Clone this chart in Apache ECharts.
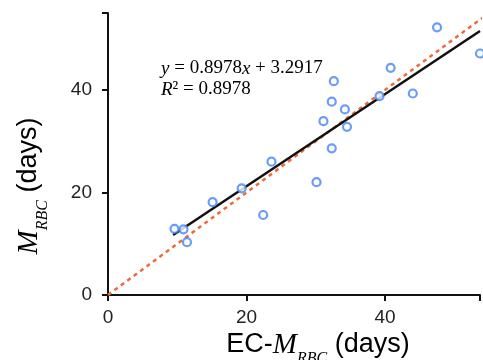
<!DOCTYPE html>
<html><head><meta charset="utf-8">
<script src="https://cdn.jsdelivr.net/npm/echarts@6/dist/echarts.min.js"></script>
<style>html,body{margin:0;padding:0;background:#fff}#c{width:483px;height:360px}</style>
</head><body><div id="c"></div>
<script>
// Data
const pointsX = [9.6, 10.9, 11.4, 15.1, 19.3, 22.4, 23.6, 30.1, 31.1, 32.3, 32.3, 32.6, 34.2, 34.5, 39.2, 40.8, 44.0, 47.5, 53.7];
const pointsY = [12.9, 12.8, 10.3, 18.1, 20.8, 15.6, 26.0, 22.0, 33.9, 28.6, 37.7, 41.7, 36.2, 32.8, 38.8, 44.3, 39.3, 52.2, 47.1];
const fitX = [9.4, 53.7];
const fitY = [11.7, 51.5];
const identityX = [0, 55];
const identityY = [0, 55];
const xTicks = [0, 20, 40];
const yTicks = [0, 20, 40];
const equationLine1 = ['y', ' = 0.8978', 'x', ' + 3.2917'];
const equationLine2 = ['R', '² = 0.8978'];

const chart = echarts.init(document.getElementById('c'), null, {renderer: 'canvas'});
const SANS = 'Liberation Sans, Arial, sans-serif';
const SERIF = 'Liberation Serif, Times New Roman, serif';
const nameRich = {
  n: {fontFamily: SANS, fontSize: 27, color: '#111', lineHeight: 30, verticalAlign: 'top'},
  m: {fontFamily: SERIF, fontStyle: 'italic', fontSize: 29, color: '#111', lineHeight: 30, verticalAlign: 'top'},
  s: {fontFamily: SERIF, fontStyle: 'italic', fontSize: 16, color: '#111', lineHeight: 16, verticalAlign: 'top', padding: [20, 0, 0, 0]}
};
const eqRich = {
  i: {fontFamily: SERIF, fontStyle: 'italic', fontSize: 19, color: '#111'},
  r: {fontFamily: SERIF, fontSize: 19, color: '#111'}
};
chart.setOption({
  animation: false,
  grid: {left: 108, right: 0, top: 13, bottom: 65, containLabel: false},
  xAxis: {
    type: 'value', min: 0, max: 53.7, interval: 20,
    axisLine: {show: true, onZero: false, lineStyle: {color: '#111', width: 2}},
    axisTick: {show: true, length: 6, lineStyle: {color: '#111', width: 2}},
    axisLabel: {margin: 13, fontFamily: SANS, fontSize: 19, color: '#222',
      formatter: v => xTicks.includes(v) ? String(v) : ''},
    splitLine: {show: false}
  },
  yAxis: {
    type: 'value', min: 0, max: 55, interval: 20,
    axisLine: {show: true, onZero: false, lineStyle: {color: '#111', width: 2}},
    axisTick: {show: true, length: 6, lineStyle: {color: '#111', width: 2}},
    axisLabel: {margin: 16, fontFamily: SANS, fontSize: 19, color: '#222',
      formatter: v => yTicks.includes(v) ? String(v) : ''},
    splitLine: {show: false}
  },
  series: [
    {
      type: 'line', data: identityX.map((x, i) => [x, identityY[i]]),
      symbol: 'none', clip: true, z: 2,
      lineStyle: {color: '#EE6A3E', width: 2.5, type: [4, 4]}
    },
    {
      type: 'line', data: fitX.map((x, i) => [x, fitY[i]]),
      symbol: 'none', clip: true, z: 3,
      lineStyle: {color: '#111', width: 2.5}
    },
    {
      type: 'scatter', data: pointsX.map((x, i) => [x, pointsY[i]]),
      symbol: 'circle', symbolSize: 8, clip: false, z: 4,
      itemStyle: {color: '#fff', borderColor: '#4384F6', borderWidth: 2.2}
    }
  ],
  graphic: [
    {type: 'text', left: 161, top: 59, z: 10,
      style: {text: '{i|' + equationLine1[0] + '}{r|' + equationLine1[1] + '}{i|' + equationLine1[2] + '}{r|' + equationLine1[3] + '}', rich: eqRich}},
    {type: 'text', left: 161, top: 80, z: 10,
      style: {text: '{i|' + equationLine2[0] + '}{r|' + equationLine2[1] + '}', rich: eqRich}},
    {type: 'text', x: 318, y: 331, z: 10,
      style: {text: '{n|EC-}{m|M}{s|RBC}{n| (days)}', rich: nameRich, align: 'center', verticalAlign: 'top'}},
    {type: 'text', x: 30, y: 186, rotation: Math.PI / 2, z: 10,
      style: {text: '{m|M}{s|RBC}{n| (days)}', rich: nameRich, align: 'center', verticalAlign: 'middle'}}
  ]
});
</script></body></html>
